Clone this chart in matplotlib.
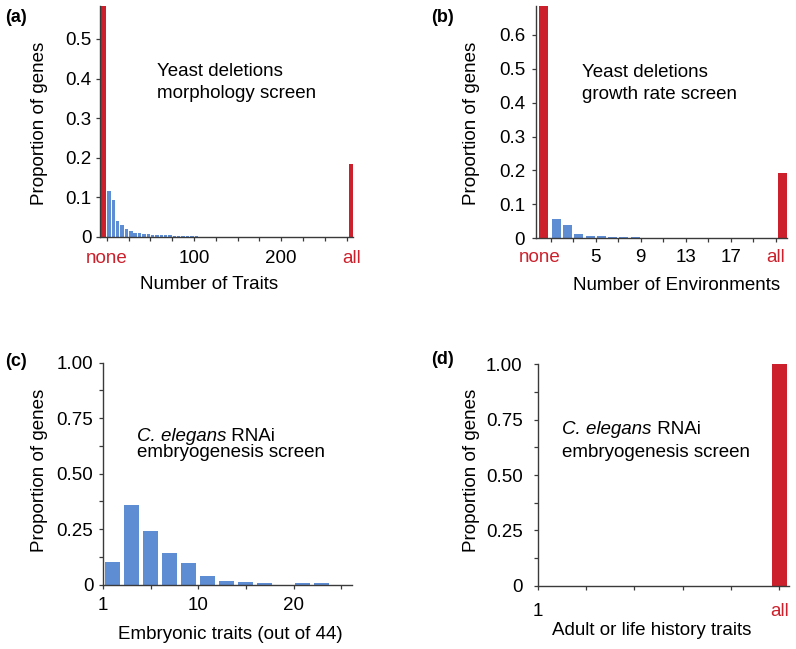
import numpy as np
import matplotlib
matplotlib.use("Agg")
import matplotlib.pyplot as plt

plt.rcParams['font.family'] = ['Liberation Sans', 'DejaVu Sans']
plt.rcParams['font.size'] = 13.5

# ---------------- data ----------------
# (a) yeast morphology screen: proportion of genes by number of traits (bins of 5 traits)
a_none = 0.60
a_all = 0.183
a_bin_values = [0.117, 0.094, 0.040, 0.030, 0.019, 0.014, 0.011, 0.009, 0.008, 0.007,
                0.006, 0.005, 0.005, 0.004, 0.004, 0.003, 0.003, 0.003, 0.002, 0.002,
                0.002, 0.001, 0.001]
a_yticks = [0, 0.1, 0.2, 0.3, 0.4, 0.5]
a_yticklabels = ['0', '0.1', '0.2', '0.3', '0.4', '0.5']

# (b) yeast growth rate screen: proportion of genes by number of environments
b_none = 0.70
b_all = 0.192
b_values = [0.057, 0.039, 0.0135, 0.008, 0.006, 0.004, 0.003, 0.003, 0.002, 0.001]
b_yticks = [0, 0.1, 0.2, 0.3, 0.4, 0.5, 0.6]
b_yticklabels = ['0', '0.1', '0.2', '0.3', '0.4', '0.5', '0.6']

# (c) C. elegans embryonic traits (bins of 2 traits)
c_values = [0.100, 0.358, 0.241, 0.141, 0.098, 0.040, 0.017, 0.010, 0.008, 0.0, 0.005, 0.005]
c_xticklabels = ['1', '', '10', '', '20', '']

# (d) C. elegans adult / life history traits
d_all = 1.00
d_xticklabels = ['1', '', '', '', '', 'all']

cd_yticks = [0, 0.25, 0.5, 0.75, 1.0]
cd_yticklabels = ['0', '0.25', '0.50', '0.75', '1.00']

RED = '#cc212c'
BLUE = '#5f8dd3'
AXC = '#3a3a3a'
TL = 3.2  # tick length (pt)

W, H = 796, 649
fig = plt.figure(figsize=(W / 100, H / 100), dpi=100)


def rect(l, t, r, b):
    return [l / W, 1 - b / H, (r - l) / W, (b - t) / H]


def style(ax, xpad, ypad):
    for s in ('top', 'right'):
        ax.spines[s].set_visible(False)
    for s in ('left', 'bottom'):
        ax.spines[s].set_color(AXC)
        ax.spines[s].set_linewidth(1.0)
    ax.tick_params(which='both', direction='out', length=TL, width=0.9, color=AXC,
                   labelsize=13.5)
    ax.tick_params(axis='x', which='major', pad=xpad)
    ax.tick_params(axis='x', which='minor', pad=xpad + TL, length=0)
    ax.tick_params(axis='y', which='both', pad=ypad)


def ftext(x, y, s, **kw):
    return fig.text(x / W, 1 - y / H, s, **kw)


def mixed_title(x, y):
    t1 = ftext(x, y, 'C. elegans', fontsize=13.5, style='italic', va='baseline')
    fig.texts.append(None) if False else None
    ann = fig.add_artist(plt.Annotation(' RNAi', xy=(1, 0), xycoords=t1,
                                        va='bottom', ha='left', fontsize=13.5))
    return t1, ann


# ---------------- (a) ----------------
ax = fig.add_axes(rect(100, 6, 353, 237))
style(ax, xpad=6.0, ypad=2.8)
a_starts = 1 + 5 * np.arange(len(a_bin_values))
ax.bar(a_starts - 0.3, a_bin_values, width=3.9, align='edge', color=BLUE, linewidth=0)
ax.bar([-3.6], [a_none], width=5.6, color=RED, linewidth=0)
ax.bar([280.4], [a_all], width=4.6, color=RED, linewidth=0)
ax.set_xlim(-7.7, 282.4)
ax.set_ylim(0, 0.583)
ax.set_yticks(a_yticks)
ax.set_yticklabels(a_yticklabels)
a_xt = np.arange(0, 276, 25)
ax.set_xticks(a_xt)
ax.set_xticklabels(['none' if v == 0 else (str(v) if v in (100, 200) else '') for v in a_xt])
ax.set_xticks([280.4], minor=True)
ax.set_xticklabels(['all'], minor=True)
ax.get_xticklabels()[0].set_color(RED)
ax.get_xticklabels(minor=True)[0].set_color(RED)
ax.set_xlabel('Number of Traits', fontsize=13.5)
ax.xaxis.set_label_coords(0.431, -0.17)
ax.set_ylabel('Proportion of genes', fontsize=13.5)
ax.yaxis.set_label_coords(-0.205, 0.494)
ftext(5, 18, '(a)', fontsize=13, fontweight='bold', va='center')
ftext(157, 76, 'Yeast deletions', fontsize=13.5, va='baseline')
ftext(157, 97.7, 'morphology screen', fontsize=13.5, va='baseline')

# ---------------- (b) ----------------
ax = fig.add_axes(rect(535.7, 6, 787, 238.3))
style(ax, xpad=4.8, ypad=4.5)
b_env = np.arange(1, len(b_values) + 1)
ax.bar(b_env + 0.5, b_values, width=0.8, color=BLUE, linewidth=0)
ax.bar([0.4], [b_none], width=0.8, color=RED, linewidth=0)
ax.bar([21.6], [b_all], width=0.78, color=RED, linewidth=0)
ax.set_xlim(-0.33, 22.0)
ax.set_ylim(0, 0.685)
ax.set_yticks(b_yticks)
ax.set_yticklabels(b_yticklabels)
b_xt = np.arange(1, 22, 2)
ax.set_xticks(b_xt)
ax.set_xticklabels(['all' if v == 21 else (str(v) if v in (5, 9, 13, 17) else '') for v in b_xt])
ax.get_xticklabels()[-1].set_color(RED)
ax.set_xticks([0], minor=True)
ax.set_xticklabels(['none'], minor=True)
ax.get_xticklabels(minor=True)[0].set_color(RED)
ax.set_xlabel('Number of Environments', fontsize=13.5)
ax.xaxis.set_label_coords(0.561, -0.165)
ax.set_ylabel('Proportion of genes', fontsize=13.5)
ax.yaxis.set_label_coords(-0.222, 0.495)
ftext(431, 18, '(b)', fontsize=13, fontweight='bold', va='center')
ftext(582, 76.7, 'Yeast deletions', fontsize=13.5, va='baseline')
ftext(582, 99.3, 'growth rate screen', fontsize=13.5, va='baseline')

# ---------------- (c) ----------------
ax = fig.add_axes(rect(103.3, 362.7, 351.7, 584.5))
style(ax, xpad=5.6, ypad=4.0)
c_idx = np.arange(len(c_values))
ax.bar(0.97 + 2 * c_idx, c_values, width=1.58, color=BLUE, linewidth=0)
ax.set_xlim(0, 26.1)
ax.set_ylim(0, 1.0)
ax.set_yticks(cd_yticks)
ax.set_yticklabels(cd_yticklabels)
ax.set_yticks(np.arange(0.125, 1.0, 0.25), minor=True)
ax.set_xticks(np.arange(0, 26, 5))
ax.set_xticklabels(c_xticklabels)
ax.set_xlabel('Embryonic traits (out of 44)', fontsize=13.5)
ax.xaxis.set_label_coords(0.513, -0.185)
ax.set_ylabel('Proportion of genes', fontsize=13.5)
ax.yaxis.set_label_coords(-0.221, 0.516)
ftext(5, 361, '(c)', fontsize=13, fontweight='bold', va='center')
mixed_title(137, 441)
ftext(137, 457, 'embryogenesis screen', fontsize=13.5, va='baseline')

# ---------------- (d) ----------------
ax = fig.add_axes(rect(537.7, 364.3, 789, 585.7))
style(ax, xpad=9.4, ypad=7.6)
ax.bar([5], [d_all], width=0.31, color=RED, linewidth=0)
ax.set_xlim(0, 5.2)
ax.set_ylim(0, 1.0)
ax.set_yticks(cd_yticks)
ax.set_yticklabels(cd_yticklabels)
ax.set_yticks(np.arange(0.125, 1.0, 0.25), minor=True)
ax.set_xticks(np.arange(0, 6))
ax.set_xticklabels(d_xticklabels)
ax.get_xticklabels()[-1].set_color(RED)
ax.set_xlabel('Adult or life history traits', fontsize=13.5)
ax.xaxis.set_label_coords(0.455, -0.163)
ax.set_ylabel('Proportion of genes', fontsize=13.5)
ax.yaxis.set_label_coords(-0.23, 0.523)
ftext(431, 360, '(d)', fontsize=13, fontweight='bold', va='center')
mixed_title(562.3, 434.3)
ftext(562.3, 456.7, 'embryogenesis screen', fontsize=13.5, va='baseline')

fig.savefig('out.png', dpi=100)
